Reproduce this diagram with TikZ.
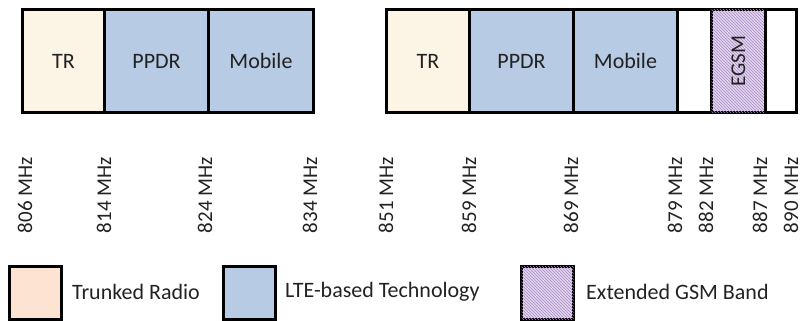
\documentclass[tikz,border=0pt]{standalone}
\usepackage{fontspec}
\setmainfont{Carlito}
\usetikzlibrary{patterns}
\definecolor{trcol}{HTML}{FCF5E5}
\definecolor{trleg}{HTML}{FDE4D2}
\definecolor{ltecol}{HTML}{B7CBE4}
\definecolor{egsmcol}{HTML}{E2D4EE}
\definecolor{egsmline}{HTML}{A98CC4}
\definecolor{txt}{HTML}{222222}
\tikzset{
  cell/.style={draw=black, line width=3pt, inner sep=0pt, anchor=north west,
    minimum height=103pt, text=txt, font=\fontsize{22}{25}\selectfont},
  freq/.style={rotate=90, anchor=east, inner sep=0pt, text=txt,
    font=\fontsize{21}{24}\selectfont},
  legbox/.style={draw=black, line width=3pt, inner sep=0pt, anchor=north west,
    minimum width=52pt, minimum height=53pt},
  legtext/.style={anchor=west, inner sep=0pt, text=txt, font=\fontsize{22}{25}\selectfont},
  hatch/.style={fill=egsmcol, postaction={pattern=north west lines, pattern color=egsmline}}
}
\begin{document}
\begin{tikzpicture}[x=1pt,y=-1pt]
\useasboundingbox (0,0) rectangle (804,321);
% left band
\node[cell, fill=trcol, minimum width=82pt] (tra) at (21,8) {TR};
\node[cell, fill=ltecol, minimum width=104pt] (ppdra) at (103,8) {PPDR};
\node[cell, fill=ltecol, minimum width=105pt] (moba) at (207,8) {Mobile};
% right band
\node[cell, fill=trcol, minimum width=83pt] (trb) at (385,8) {TR};
\node[cell, fill=ltecol, minimum width=104pt] (ppdrb) at (468,8) {PPDR};
\node[cell, fill=ltecol, minimum width=104pt] (mobb) at (572,8) {Mobile};
\node[cell, fill=white, minimum width=34pt] (gapa) at (676,8) {};
\node[cell, hatch, minimum width=54pt] (egsm) at (710,8) {};
\node[rotate=90, text=txt, font=\fontsize{21}{24}\selectfont, inner sep=0pt] (egsmt) at (egsm.center) {EGSM};
\node[cell, fill=white, minimum width=31pt] (gapb) at (764,8) {};
% frequency labels
\node[freq] (f806) at (25,157) {806 MHz};
\node[freq] (f814) at (104,157) {814 MHz};
\node[freq] (f824) at (205,157) {824 MHz};
\node[freq] (f834) at (310,157) {834 MHz};
\node[freq] (f851) at (386,157) {851 MHz};
\node[freq] (f859) at (469,157) {859 MHz};
\node[freq] (f869) at (571,157) {869 MHz};
\node[freq] (f879) at (675,157) {879 MHz};
\node[freq] (f882) at (706,157) {882 MHz};
\node[freq] (f887) at (760,157) {887 MHz};
\node[freq] (f890) at (791,157) {890 MHz};
% legend
\node[legbox, fill=trleg] (lega) at (8,265) {};
\node[legtext] (legat) at (72,292) {Trunked Radio};
\node[legbox, fill=ltecol] (legb) at (222,265) {};
\node[legtext] (legbt) at (285,292) {LTE-based Technology};
\node[legbox, hatch] (legc) at (520,265) {};
\node[legtext] (legct) at (586,292) {Extended GSM Band};
\end{tikzpicture}
\end{document}
